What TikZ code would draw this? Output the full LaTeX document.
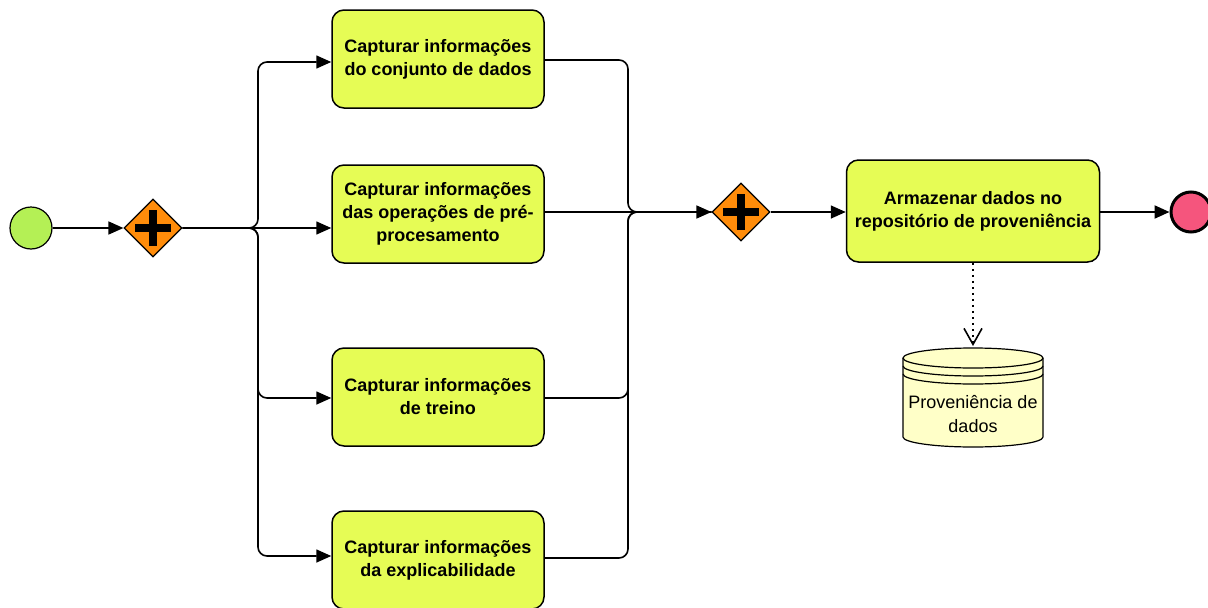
\documentclass[tikz,border=0pt]{standalone}
\usepackage{fontspec}
\setmainfont{Liberation Sans}
\usetikzlibrary{arrows.meta,shapes.geometric}
\definecolor{taskfill}{RGB}{230,252,85}
\definecolor{startfill}{RGB}{180,240,85}
\definecolor{endfill}{RGB}{245,85,125}
\definecolor{gwfill}{RGB}{255,140,10}
\definecolor{dsfill}{RGB}{255,255,200}
\tikzset{
  task/.style={draw=black, line width=1.5pt, fill=taskfill, rounded corners=12pt,
    minimum width=212pt, minimum height=98pt, align=center,
    font=\fontsize{18}{23}\selectfont\bfseries},
  gw/.style={draw=black, line width=1.2pt, fill=gwfill, diamond, aspect=1,
    minimum width=58pt, minimum height=58pt, inner sep=0pt},
  flow/.style={line width=1.6pt, -{Triangle[length=15pt,width=13pt]}},
  joinline/.style={line width=1.6pt, rounded corners=9pt},
  plus/.style={line width=7.5pt},
}
\begin{document}
\begin{tikzpicture}[x=1pt,y=-1pt]
\useasboundingbox (0,0) rectangle (1208,608);
% events
\node[circle, draw=black, line width=1.2pt, fill=startfill, minimum size=42pt, inner sep=0pt] (start) at (31,228) {};
\node[circle, draw=black, line width=3pt, fill=endfill, minimum size=40pt, inner sep=0pt] (end) at (1191,212) {};
% gateways
\node[gw] (g1) at (153,228) {};
\node[gw] (g2) at (741,212) {};
\draw[plus] ([xshift=-18pt]g1.center) -- ([xshift=18pt]g1.center);
\draw[plus] ([yshift=-18pt]g1.center) -- ([yshift=18pt]g1.center);
\draw[plus] ([xshift=-18pt]g2.center) -- ([xshift=18pt]g2.center);
\draw[plus] ([yshift=-18pt]g2.center) -- ([yshift=18pt]g2.center);
% tasks
\node[task] (t1) at (438,59) {Capturar informações\\do conjunto de dados};
\node[task] (t2) at (438,214) {Capturar informações\\das operações de pré-\\procesamento};
\node[task] (t3) at (438,397) {Capturar informações\\de treino};
\node[task] (t4) at (438,560) {Capturar informações\\da explicabilidade};
\node[task, minimum width=253pt, minimum height=102pt] (t5) at (973,211) {Armazenar dados no\\repositório de proveniência};
% coordinates
\coordinate (sp) at (258,228);
\coordinate (jn) at (628,212);
% flows
\draw[flow] (start) -- (g1.west);
\draw[flow, joinline] (g1.east) -- (sp) |- (t1.west |- 0,62);
\draw[flow] (g1.east) -- (t2.west |- g1.east);
\draw[flow, joinline] (g1.east) -- (sp) |- (t3.west |- 0,398);
\draw[flow, joinline] (g1.east) -- (sp) |- (t4.west |- 0,556);
\draw[joinline] (t1.east |- 0,60) -| (jn) -- (g2.west);
\draw[joinline] (t2.east |- jn) -- (g2.west);
\draw[joinline] (t3.east |- 0,398) -| (jn) -- (g2.west);
\draw[joinline] (t4.east |- 0,558) -| (jn) -- (g2.west);
\draw[flow] (jn) -- (g2.west);
\draw[flow] (g2.east) -- (t5.west |- g2.east);
\draw[flow, line width=2.2pt] (t5.east |- end.west) -- (end.west);
% data store
\coordinate (dstop) at (973,358);
\fill[dsfill] (903,358) -- (903,437) arc[start angle=180, end angle=360, x radius=70pt, y radius=10pt] -- (1043,358) arc[start angle=0, end angle=180, x radius=70pt, y radius=10pt] -- cycle;
\draw[line width=1.2pt] (903,358) -- (903,437) arc[start angle=180, end angle=360, x radius=70pt, y radius=10pt] -- (1043,358);
\draw[line width=1.2pt] (dstop) ellipse[x radius=70pt, y radius=10pt];
\draw[line width=1.2pt] (903,366) arc[start angle=180, end angle=360, x radius=70pt, y radius=10pt];
\draw[line width=1.2pt] (903,374) arc[start angle=180, end angle=360, x radius=70pt, y radius=10pt];
\node[align=center, font=\fontsize{18}{24}\selectfont] (ds) at (973,414) {Proveniência de\\dados};
\coordinate (dsin) at (973,346);
\draw[line width=1.6pt, dash pattern=on 2pt off 4pt, -{Straight Barb[length=16pt,width=18pt]}] (t5.south) -- (dsin);
\end{tikzpicture}
\end{document}
